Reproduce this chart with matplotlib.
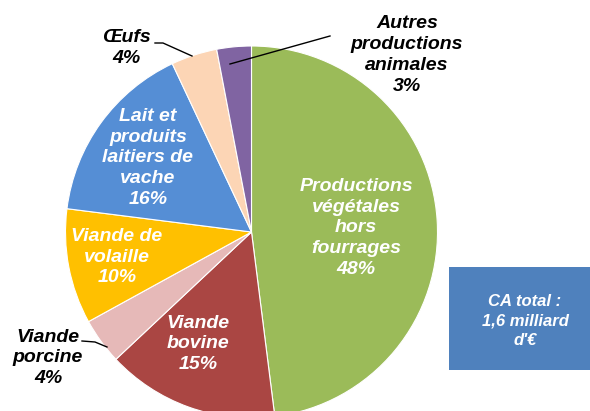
import matplotlib
matplotlib.use("Agg")
import matplotlib.pyplot as plt
from matplotlib.patches import Rectangle

categories = ["Productions\nvégétales\nhors\nfourrages", "Viande\nbovine", "Viande\nporcine",
              "Viande de\nvolaille", "Lait et\nproduits\nlaitiers de\nvache", "Œufs",
              "Autres\nproductions\nanimales"]
values = [48, 15, 4, 10, 16, 4, 3]
colors = ["#9BBB59", "#AA4643", "#E6B9B8", "#FFC000", "#558ED5", "#FCD5B5", "#8064A2"]
total_label = "CA total :\n1,6 milliard\nd'€"

W, H = 590, 411
fig = plt.figure(figsize=(W / 100, H / 100), dpi=100)
ax = fig.add_axes([0, 0, 1, 1])

def Y(y):
    return H - y

cx, cy, r = 251.5, 232, 186
ax.pie(values, colors=colors, startangle=90, counterclock=False,
       center=(cx, Y(cy)), radius=r, frame=True,
       wedgeprops=dict(edgecolor="white", linewidth=0.8))
ax.set_xlim(0, W)
ax.set_ylim(0, H)
ax.set_aspect("equal")
ax.axis("off")

font = dict(family=["Liberation Sans", "DejaVu Sans"], weight="bold", style="italic",
            fontsize=14, ha="center", va="center", linespacing=1.3)

# label positions (pixel coords, y from top) and colors
label_pos = [(356, 228), (198, 344), (48, 358), (117, 257), (148, 158), (126, 48), (407, 55)]
label_col = ["white", "white", "black", "white", "white", "black", "black"]
for cat, v, (x, y), c in zip(categories, values, label_pos, label_col):
    ax.text(x, Y(y), f"{cat}\n{v}%", color=c, **font)

# leader lines
leaders = [
    [(82, 341), (95, 342), (107, 347)],
    [(155, 43), (163, 43), (192, 56)],
    [(330, 36), (230, 64)],
]
for pts in leaders:
    ax.plot([p[0] for p in pts], [Y(p[1]) for p in pts], color="black", lw=1.0)

# total box
ax.add_patch(Rectangle((449, Y(370)), 141, 103, facecolor="#4F81BD", edgecolor="none"))
f2 = dict(font)
f2["fontsize"] = 12
f2["linespacing"] = 1.4
ax.text(525, Y(321), total_label, color="white", **f2)

fig.savefig("out.png", dpi=100)
